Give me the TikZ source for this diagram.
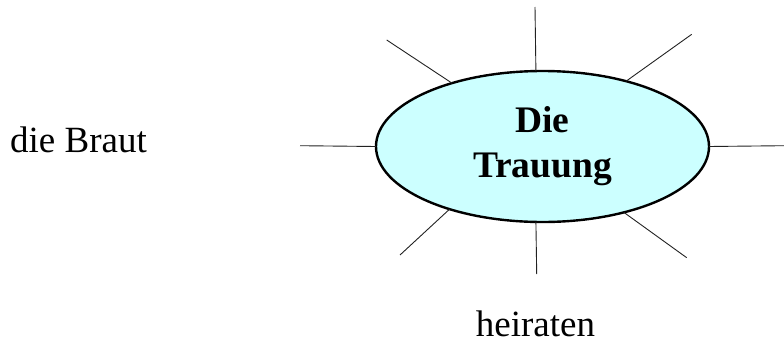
\documentclass[tikz,border=0pt]{standalone}
\usepackage{fontspec}
\setmainfont{Liberation Serif}
\usetikzlibrary{shapes.geometric}
\definecolor{lightcyan}{HTML}{CCFFFF}
\definecolor{raycol}{HTML}{222222}
\tikzset{
  center/.style={ellipse, draw=black, line width=2.4pt, fill=lightcyan,
    minimum width=333pt, minimum height=151pt, inner sep=0pt, outer sep=0pt,
    align=center, font=\fontsize{37.5}{45}\selectfont\bfseries},
  ray/.style={draw=raycol, line width=0.9pt},
  word/.style={font=\fontsize{37}{43}\selectfont, inner sep=0pt}
}
\begin{document}
\begin{tikzpicture}[x=1pt,y=-1pt]
\useasboundingbox (0,0) rectangle (784,343);
\coordinate (oT)  at (535,7);
\coordinate (oB)  at (536.7,274);
\coordinate (oUL) at (386.7,40);
\coordinate (oUR) at (691.7,34.3);
\coordinate (oL)  at (300,145.7);
\coordinate (oR)  at (784,145.7);
\coordinate (oLL) at (400,255);
\coordinate (oLR) at (686.7,257.7);
\node[center] (e) at (542.5,146.5) {Die\\Trauung};
\draw[ray] (oT) -- (e.95.7);
\draw[ray] (oB) -- (e.265.6);
\draw[ray] (oUL) -- (e.145.5);
\draw[ray] (oUR) -- (e.38.1);
\draw[ray] (oL) -- (e.180);
\draw[ray] (oR) -- (e.0);
\draw[ray] (oLL) -- (e.214.3);
\draw[ray] (oLR) -- (e.321.8);
\node[word, anchor=base west] (braut) at (10,152) {die Braut};
\node[word, anchor=base] (heiraten) at (535.5,336) {heiraten};
\end{tikzpicture}
\end{document}
